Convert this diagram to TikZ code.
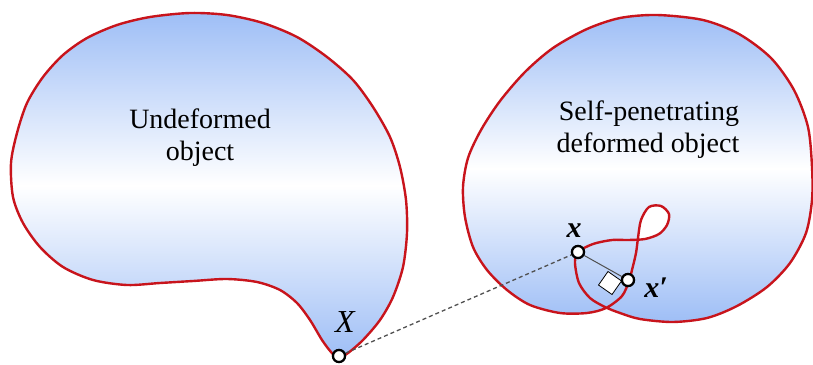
\documentclass[tikz,border=0pt]{standalone}
\usepackage{fontspec}
\setmainfont{Liberation Serif}
\definecolor{outlinered}{RGB}{200,20,28}
\definecolor{fillblue}{RGB}{158,190,246}
\definecolor{dashgray}{RGB}{80,80,80}
\tikzset{
  body/.style={draw=outlinered, line width=2.4pt, line join=round,
    top color=fillblue, bottom color=fillblue, middle color=white},
  pt/.style={circle, draw=black, fill=white, line width=2.2pt,
    minimum size=12pt, inner sep=0pt},
  sqmark/.style={draw=black, fill=white, line width=0.8pt,
    minimum size=16.5pt, inner sep=0pt},
  lbl/.style={font=\fontsize{28}{32}\selectfont, anchor=base, inner sep=0pt},
  normalline/.style={draw=dashgray, line width=1pt},
  corr/.style={draw=dashgray, line width=1.3pt, dash pattern=on 4pt off 3pt},
  mlbl/.style={anchor=base, inner sep=0pt}
}
\begin{document}
\begin{tikzpicture}[x=1pt,y=-1pt]
\useasboundingbox (0,0) rectangle (813,364);
% undeformed object
\path[body] plot[smooth cycle, tension=0.5] coordinates {
 (190,13) (227,15) (263,23) (297,37) (327,57) (353,80) (373,107)
 (390,137) (400,167) (406,200) (407,233) (403,267) (393,297) (380,320)
 (363,340) (348,353) (338,358) (331,352) (322,340) (310,320) (297,303)
 (280,290) (257,282) (227,279) (193,281) (160,283) (127,285) (93,280)
 (63,267) (40,247) (23,223) (13,197) (11,163) (17,133) (27,103)
 (43,77) (63,55) (87,38) (117,25) (150,17)};
% deformed self-penetrating object
\path[body] plot[smooth cycle, tension=0.5] coordinates {
 (657,15) (703,20) (739,34) (771,58) (794,90) (808,127) (812,167)
 (812,200) (806,233) (790,263) (767,287) (737,306) (707,318) (673,322)
 (640,319) (620,313) (605,307) (590,298) (579,283) (575,263) (578,252)
 (593,244) (612,240) (628,240) (645,239) (659,234) (667,225) (669,214)
 (661,206) (649,207) (641,220) (638,238) (636,253) (632,270) (629,281)
 (622,296) (606,308) (587,313) (560,313) (530,305) (507,290) (487,270)
 (473,247) (465,217) (463,187) (468,158) (481,130) (500,101) (525,72)
 (553,48) (587,29) (620,18)};
% points
\node[pt] (X0) at (339,356) {};
\node[pt] (x0) at (578,252) {};
\node[pt] (xp) at (628,280) {};
\draw[normalline] (x0) -- (xp);
\node[sqmark, rotate=-35] (sq) at (610,283) {};
\draw[corr] (X0) -- (x0);
\node[pt] at (X0) {};
\node[pt] at (x0) {};
\node[pt] at (xp) {};
% labels
\node[lbl] (tU) at (200,128) {Undeformed};
\node[lbl] (tO) at (200,160) {object};
\node[lbl] (tS) at (649,120) {Self-penetrating};
\node[lbl] (tD) at (648,152) {deformed object};
\node[mlbl, font=\fontsize{32}{32}\selectfont\itshape] (lX) at (345,332) {X};
\node[mlbl, font=\fontsize{30}{30}\selectfont\bfseries\itshape] (lx) at (574,237) {x};
\node[mlbl, font=\fontsize{30}{30}\selectfont\bfseries\itshape] (lxp) at (656,297) {x′};
\end{tikzpicture}
\end{document}
